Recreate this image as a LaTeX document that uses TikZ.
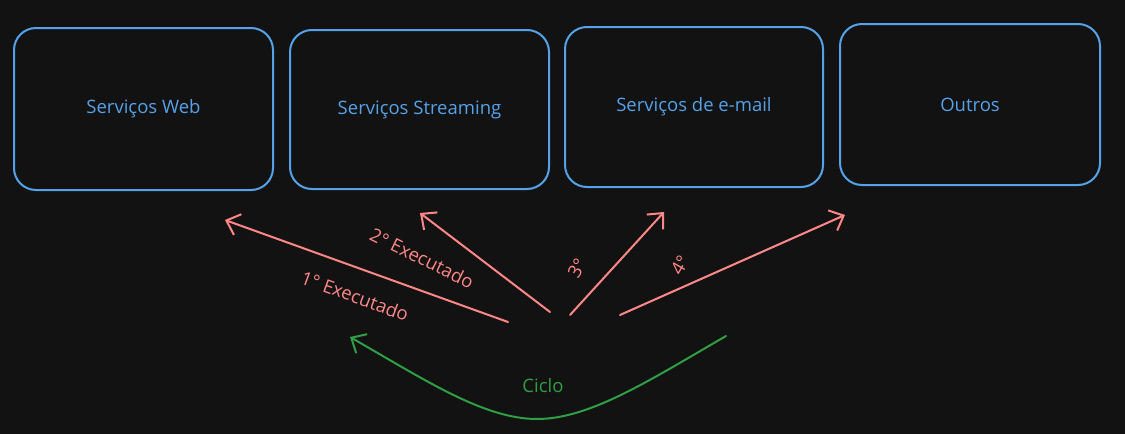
\documentclass[tikz,border=0pt]{standalone}
\usepackage{fontspec}
\setmainfont{Open Sans}
\usetikzlibrary{arrows.meta}
\definecolor{bg}{HTML}{121212}
\definecolor{boxblue}{HTML}{56A2E8}
\definecolor{arrred}{HTML}{FF8787}
\definecolor{cycgreen}{HTML}{2F9E44}
\tikzset{
  lblfont/.style={font=\fontsize{18.5}{21}\selectfont},
  svcbox/.style={draw=boxblue, line width=2pt, rounded corners=22pt, text=boxblue,
    lblfont, inner sep=0pt},
  redarrow/.style={draw=arrred, line width=2pt, line cap=round,
    -{Straight Barb[length=12pt,width=22pt,line width=2pt]}},
  redlabel/.style={text=arrred, lblfont, inner sep=0pt},
  greenarrow/.style={draw=cycgreen, line width=2pt, line cap=round,
    -{Straight Barb[length=12pt,width=22pt,line width=2pt]}},
  greenlabel/.style={text=cycgreen, lblfont, inner sep=0pt}
}
\begin{document}
\begin{tikzpicture}[x=1pt,y=-1pt]
\fill[bg] (0,0) rectangle (1125,434);
\useasboundingbox (0,0) rectangle (1125,434);

\node[svcbox, minimum width=259pt, minimum height=162pt] (web) at (143.5,109) {\raisebox{-3pt}{Serviços Web}};
\node[svcbox, minimum width=259pt, minimum height=159pt] (stream) at (419.5,109.5) {\raisebox{-2pt}{Serviços Streaming}};
\node[svcbox, minimum width=258pt, minimum height=160pt] (mail) at (694,107) {\raisebox{-1pt}{Serviços de e-mail}};
\node[svcbox, minimum width=260pt, minimum height=161pt] (outros) at (970,104.5) {Outros};

\coordinate (s1) at (508,322);
\coordinate (e1) at (225,220);
\coordinate (s2) at (550,312);
\coordinate (e2) at (420,213);
\coordinate (s3) at (570,315);
\coordinate (e3) at (664,212);
\coordinate (s4) at (620,315);
\coordinate (e4) at (845,215);

\draw[redarrow] (s1) -- (e1);
\draw[redarrow] (s2) -- (e2);
\draw[redarrow] (s3) -- (e3);
\draw[redarrow] (s4) -- (e4);

\node[redlabel, rotate=-20] (l1) at (355,296) {1° Executado};
\node[redlabel, rotate=-26] (l2) at (422,258) {2° Executado};
\node[redlabel, rotate=60] (l3) at (577,268) {3°};
\node[redlabel, rotate=60] (l4) at (680,265) {4°};

\coordinate (cs) at (726,336);
\coordinate (ce) at (350,337);
\draw[greenarrow] (cs) .. controls (650,380) and (590,419) .. (537,419)
  .. controls (484,419) and (425,380) .. (ce);
\node[greenlabel] (cl) at (543,386) {Ciclo};
\end{tikzpicture}
\end{document}
